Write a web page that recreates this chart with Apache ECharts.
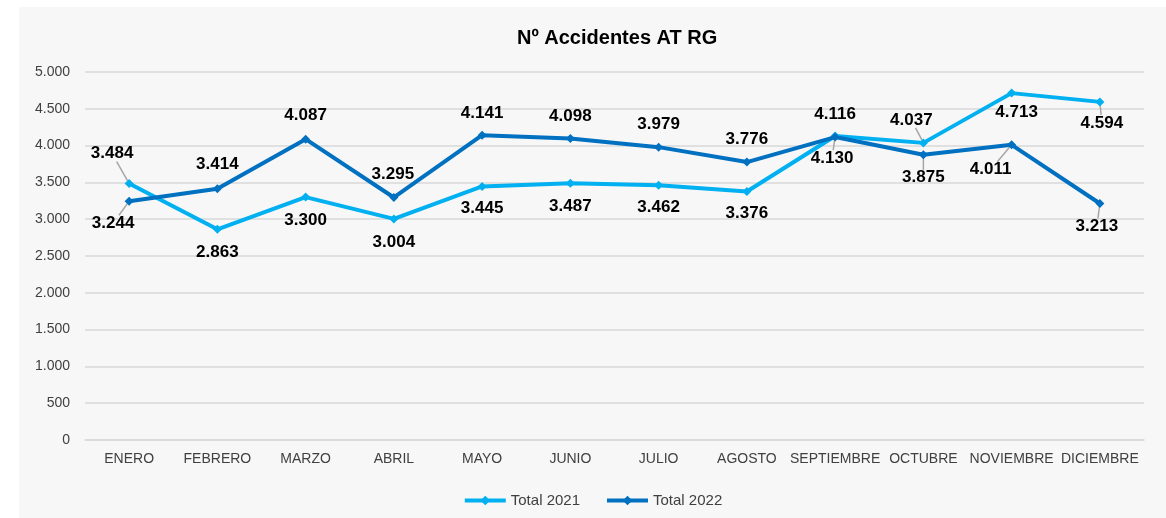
<!DOCTYPE html>
<html>
<head>
<meta charset="utf-8">
<title>Nº Accidentes AT RG</title>
<script src="https://cdn.jsdelivr.net/npm/echarts@6/dist/echarts.min.js"></script>
<style>
  html, body { margin: 0; padding: 0; background: #fff; }
  #chart { position: absolute; left: 19px; top: 7px; width: 1147px; height: 511px; }
</style>
</head>
<body>
<div id="chart"></div>
<script>
// meses
var months = ['ENERO', 'FEBRERO', 'MARZO', 'ABRIL', 'MAYO', 'JUNIO', 'JULIO', 'AGOSTO', 'SEPTIEMBRE', 'OCTUBRE', 'NOVIEMBRE', 'DICIEMBRE']
var total2021 = [3484, 2863, 3300, 3004, 3445, 3487, 3462, 3376, 4130, 4037, 4713, 4594]
var total2022 = [3244, 3414, 4087, 3295, 4141, 4098, 3979, 3776, 4116, 3875, 4011, 3213]
var yTicks = [0, 500, 1000, 1500, 2000, 2500, 3000, 3500, 4000, 4500, 5000]

// posicion de etiquetas (px respecto al punto) y cuales llevan linea guia
var offs2021 = [[-17, -30], [0, 23], [0, 23], [0, 23], [0, 22], [0, 23], [0, 22], [0, 22], [-3, 22], [-12, -23], [5, 19], [2, 21]]
var guide2021 = [0, 8, 9, 11]
var offs2022 = [[-16, 22], [0, -24], [0, -24], [-1, -23], [0, -22], [0, -22], [0, -23], [0, -23], [0, -23], [0, 23], [-21, 25], [-3, 23]]
var guide2022 = [0, 9, 10, 11]

function fmt (v) {
  return String(v).replace(/\B(?=(\d{3})+(?!\d))/g, '.')
}

function buildData (values, offs) {
  return values.map(function (v, i) {
    return { value: v, label: { offset: offs[i] } }
  })
}

function makeSeries (name, color, values, offs) {
  return {
    name: name,
    type: 'line',
    data: buildData(values, offs),
    symbol: 'diamond',
    symbolSize: 9,
    lineStyle: { width: 4, color: color },
    itemStyle: { color: color },
    label: {
      show: true,
      position: 'inside',
      color: '#000',
      fontSize: 17,
      fontWeight: 'bold',
      fontFamily: 'Liberation Sans',
      formatter: function (p) { return fmt(p.value) }
    },
    emphasis: { disabled: true },
    animation: false
  }
}

var chart = echarts.init(document.getElementById('chart'))
var opt = {
  backgroundColor: '#f7f7f7',
  title: {
    text: 'Nº Accidentes AT RG',
    left: 493,
    top: 16,
    textStyle: { fontSize: 20, fontWeight: 'bold', color: '#000', fontFamily: 'Liberation Sans' }
  },
  legend: {
    top: 481,
    left: 'center',
    itemWidth: 41,
    itemHeight: 12,
    itemGap: 25,
    lineStyle: { width: 4 },
    textStyle: { fontSize: 15, color: '#404040', fontFamily: 'Liberation Sans' },
    data: ['Total 2021', 'Total 2022']
  },
  grid: { left: 66, right: 22, top: 65, bottom: 78 },
  xAxis: {
    type: 'category',
    data: months,
    boundaryGap: true,
    axisLine: { lineStyle: { color: '#d9d9d9', width: 1.5 } },
    axisTick: { show: false },
    axisLabel: { margin: 12, fontSize: 14, color: '#404040', fontFamily: 'Liberation Sans', interval: 0 }
  },
  yAxis: {
    type: 'value',
    min: yTicks[0],
    max: yTicks[yTicks.length - 1],
    interval: 500,
    axisLine: { show: false },
    axisTick: { show: false },
    splitLine: { lineStyle: { color: '#d9d9d9', width: 1.5 } },
    axisLabel: { margin: 15, fontSize: 14, color: '#404040', fontFamily: 'Liberation Sans', formatter: fmt }
  },
  series: [
    makeSeries('Total 2021', '#00b0f0', total2021, offs2021),
    makeSeries('Total 2022', '#0070c0', total2022, offs2022)
  ]
}
chart.setOption(opt)

// lineas guia: desde el punto hacia el centro de la etiqueta, cortadas en el borde de la etiqueta
function guideLines (values, offs, guides) {
  var out = []
  guides.forEach(function (i) {
    var p = chart.convertToPixel({ xAxisIndex: 0, yAxisIndex: 0 }, [i, values[i]])
    var dx = offs[i][0], dy = offs[i][1]
    var len = Math.sqrt(dx * dx + dy * dy)
    var s = Math.min(dx ? 21 / Math.abs(dx) : Infinity, dy ? 8 / Math.abs(dy) : Infinity)
    var x2 = p[0] + dx - dx * s, y2 = p[1] + dy - dy * s
    var x1 = p[0] + dx / len * 3, y1 = p[1] + dy / len * 3
    if ((x2 - p[0]) * dx + (y2 - p[1]) * dy <= 9) return
    out.push({
      type: 'line',
      silent: true,
      z: 1,
      shape: { x1: x1, y1: y1, x2: x2, y2: y2 },
      style: { stroke: '#a6a6a6', lineWidth: 1.5 }
    })
  })
  return out
}
chart.setOption({
  graphic: guideLines(total2021, offs2021, guide2021).concat(guideLines(total2022, offs2022, guide2022))
})
</script>
</body>
</html>
